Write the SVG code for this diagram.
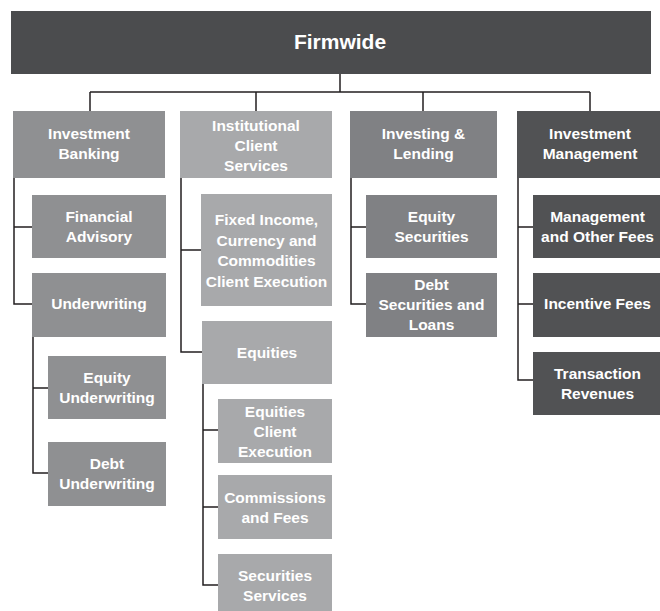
<svg xmlns="http://www.w3.org/2000/svg" width="660" height="611" viewBox="0 0 660 611">
<style>
text{font-family:"Liberation Sans",Arial,sans-serif;font-weight:bold;fill:#ffffff;text-anchor:middle;font-size:15.5px}
.top{font-size:21px}
.c1{fill:#8f9092}
.c2{fill:#a8a9ab}
.c3{fill:#808184}
.c4{fill:#515254}
.c0{fill:#4b4c4e}
#connectors path{fill:none;stroke:#231f20;stroke-width:1.5}
</style>
<rect width="660" height="611" fill="#ffffff"/>
<g id="connectors">
<path d="M340,74 V92 M90,92 H590 M90,92 V111 M256,92 V111 M423,92 V111 M590,92 V111"/>
<path d="M14,178 V304 H32 M14,227 H32"/>
<path d="M33,337 V473 H48 M33,388 H48"/>
<path d="M181,178 V352 H202 M181,250 H201"/>
<path d="M203,384 V585 H218 M203,430 H218 M203,507 H218"/>
<path d="M351,178 V304 H366 M351,227 H366"/>
<path d="M518,178 V380 H533 M518,227 H533 M518,304 H533"/>
</g>
<g id="firmwide"><rect class="c0" x="11" y="11" width="640" height="63"/><text class="top" x="340" y="49">Firmwide</text></g>
<g id="investment-banking"><rect class="c1" x="13" y="111" width="152" height="67"/><text x="89" y="138.5">Investment</text><text x="89" y="158.5">Banking</text></g>
<g id="financial-advisory"><rect class="c1" x="32" y="195" width="134" height="63"/><text x="99" y="222">Financial</text><text x="99" y="242">Advisory</text></g>
<g id="underwriting"><rect class="c1" x="32" y="273" width="134" height="64"/><text x="99" y="309">Underwriting</text></g>
<g id="equity-underwriting"><rect class="c1" x="48" y="356" width="118" height="63"/><text x="107" y="382.5">Equity</text><text x="107" y="402.5">Underwriting</text></g>
<g id="debt-underwriting"><rect class="c1" x="48" y="442" width="118" height="64"/><text x="107" y="468.5">Debt</text><text x="107" y="488.5">Underwriting</text></g>
<g id="institutional-client-services"><rect class="c2" x="180" y="111" width="152" height="67"/><text x="256" y="130.5">Institutional</text><text x="256" y="150.5">Client</text><text x="256" y="170.5">Services</text></g>
<g id="ficc"><rect class="c2" x="201" y="194" width="131" height="112"/><text x="266.5" y="225">Fixed Income,</text><text x="266.5" y="245.5">Currency and</text><text x="266.5" y="266">Commodities</text><text x="266.5" y="286.5">Client Execution</text></g>
<g id="equities"><rect class="c2" x="202" y="321" width="130" height="63"/><text x="267" y="357.5">Equities</text></g>
<g id="equities-client-execution"><rect class="c2" x="218" y="399" width="114" height="64"/><text x="275" y="416.5">Equities</text><text x="275" y="436.5">Client</text><text x="275" y="456.5">Execution</text></g>
<g id="commissions-and-fees"><rect class="c2" x="218" y="475" width="114" height="64"/><text x="275" y="502.5">Commissions</text><text x="275" y="522.5">and Fees</text></g>
<g id="securities-services"><rect class="c2" x="218" y="554" width="114" height="57"/><text x="275" y="581">Securities</text><text x="275" y="601">Services</text></g>
<g id="investing-lending"><rect class="c3" x="350" y="111" width="147" height="67"/><text x="423.5" y="138.5">Investing &amp;</text><text x="423.5" y="158.5">Lending</text></g>
<g id="equity-securities"><rect class="c3" x="366" y="195" width="131" height="63"/><text x="431.5" y="222">Equity</text><text x="431.5" y="242">Securities</text></g>
<g id="debt-securities-loans"><rect class="c3" x="366" y="273" width="131" height="64"/><text x="431.5" y="289.5">Debt</text><text x="431.5" y="309.5">Securities and</text><text x="431.5" y="329.5">Loans</text></g>
<g id="investment-management"><rect class="c4" x="517" y="111" width="143" height="67"/><text x="590" y="138.5">Investment</text><text x="590" y="158.5">Management</text></g>
<g id="management-other-fees"><rect class="c4" x="533" y="195" width="127" height="63"/><text x="597.5" y="222">Management</text><text x="597.5" y="242">and Other Fees</text></g>
<g id="incentive-fees"><rect class="c4" x="533" y="273" width="127" height="64"/><text x="597.5" y="309">Incentive Fees</text></g>
<g id="transaction-revenues"><rect class="c4" x="533" y="352" width="127" height="63"/><text x="597.5" y="378.5">Transaction</text><text x="597.5" y="398.5">Revenues</text></g>
</svg>
